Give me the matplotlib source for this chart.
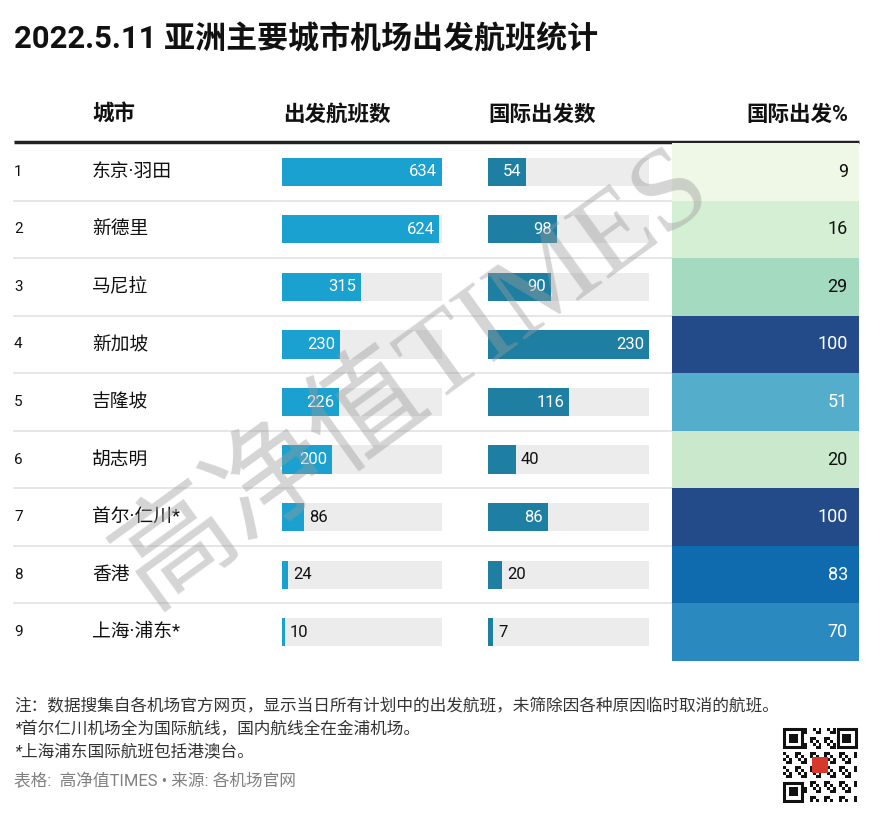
import numpy as np
import matplotlib
matplotlib.use("Agg")
import matplotlib.pyplot as plt
from matplotlib.patches import Rectangle

plt.rcParams['font.family'] = ['Roboto', 'Noto Sans CJK SC', 'DejaVu Sans']

# data
ranks = [1, 2, 3, 4, 5, 6, 7, 8, 9]
cities = ['东京·羽田', '新德里', '马尼拉', '新加坡', '吉隆坡', '胡志明', '首尔·仁川*', '香港', '上海·浦东*']
departures = [634, 624, 315, 230, 226, 200, 86, 24, 10]
intl_departures = [54, 98, 90, 230, 116, 40, 86, 20, 7]
intl_pct = [9, 16, 29, 100, 51, 20, 100, 83, 70]
pct_colors = ['#eff8e7', '#d5efd4', '#a3dac0', '#234b8a', '#54aecb',
              '#cae9cc', '#234b8a', '#0f6aae', '#2a89bf']
headers = ['城市', '出发航班数', '国际出发数', '国际出发%']
title = '2022.5.11 亚洲主要城市机场出发航班统计'
notes = ['注：数据搜集自各机场官方网页，显示当日所有计划中的出发航班，未筛除因各种原因临时取消的航班。',
         '*首尔仁川机场全为国际航线，国内航线全在金浦机场。',
         '*上海浦东国际航班包括港澳台。']
source = '表格:  高净值TIMES • 来源: 各机场官网'

W, H = 874, 830
fig = plt.figure(figsize=(W / 100, H / 100), dpi=100)
ax = fig.add_axes([0, 0, 1, 1])
ax.set_xlim(0, W)
ax.set_ylim(H, 0)
ax.axis('off')

top, bottom = 143, 661
n = len(cities)
row_h = (bottom - top) / n
yc = [top + row_h * (i + 0.5) for i in range(n)]

# title and headers
ax.text(14, 40, title, fontsize=22.3, fontweight='bold', va='center', ha='left', color='#111111')
ax.text(92, 115, headers[0], fontsize=15.5, fontweight='bold', va='center', color='#111111')
ax.text(283, 115, headers[1], fontsize=15.5, fontweight='bold', va='center', color='#111111')
ax.text(488, 115, headers[2], fontsize=15.5, fontweight='bold', va='center', color='#111111')
ax.text(848, 115, headers[3], fontsize=15.5, fontweight='bold', va='center', ha='right', color='#111111')
ax.plot([14, 859], [142, 142], color='#222222', lw=2.5, solid_capstyle='butt')

for i in range(n):
    ax.text(14, yc[i], str(ranks[i]), fontsize=11, va='center', color='#111111')
    ax.text(92, yc[i], cities[i], fontsize=13.5, va='center', color='#111111')
    if i < n - 1:
        ax.plot([14, 672], [top + row_h * (i + 1)] * 2, color='#e2e2e2', lw=1.2)


def bar_column(x0, x1, values, color):
    bax = fig.add_axes([x0 / W, 1 - bottom / H, (x1 - x0) / W, (bottom - top) / H])
    vmax = max(values)
    bax.set_xlim(0, vmax)
    bax.set_ylim(n, 0)
    bax.axis('off')
    ys = np.arange(n) + 0.5
    bax.barh(ys, [vmax] * n, height=0.49, color='#ececec')
    bax.barh(ys, values, height=0.49, color=color)
    pad = vmax * 5 / (x1 - x0)
    for y, v in zip(ys, values):
        if v / vmax * (x1 - x0) >= 30:
            bax.text(v - pad, y, str(v), ha='right', va='center', fontsize=12, color='white')
        else:
            bax.text(v + pad, y, str(v), ha='left', va='center', fontsize=12, color='#111111')


bar_column(282, 442, departures, '#1aa1cf')
bar_column(488, 649, intl_departures, '#1f7fa2')

# percent heat column
hax = fig.add_axes([672 / W, 1 - bottom / H, (859 - 672) / W, (bottom - top) / H])
hax.set_xlim(0, 1)
hax.set_ylim(n, 0)
hax.axis('off')
ys = np.arange(n) + 0.5
hax.barh(ys, [1] * n, height=1.0, color=pct_colors)
for y, v, c in zip(ys, intl_pct, pct_colors):
    dark = c in ('#234b8a', '#54aecb', '#0f6aae', '#2a89bf')
    hax.text(0.94, y, str(v), ha='right', va='center', fontsize=13,
             color='white' if dark else '#111111')

# watermark, drawn on top of everything
wax = fig.add_axes([0, 0, 1, 1])
wax.set_xlim(0, W)
wax.set_ylim(H, 0)
wax.axis('off')
wax.text(415, 378, '高净值TIMES', fontsize=84, rotation=36, color='#9a9a9a', alpha=0.42,
         ha='center', va='center', family=['Liberation Serif', 'Noto Sans CJK SC'],
         rotation_mode='anchor')

# notes
for k, line in enumerate(notes):
    ax.text(14, 706 + k * 23, line, fontsize=12, style='italic', va='center', color='#333333')
ax.text(14, 781, source, fontsize=12, va='center', color='#808080')

# QR-like badge
qx, qy, qs = 783, 728, 74
m = 25
cell = qs / m
for i in range(m):
    for j in range(m):
        if ((i * 7 + j * 13 + i * j) % 5) < 2:
            ax.add_patch(Rectangle((qx + j * cell, qy + i * cell), cell, cell, color='#111111', lw=0))
for fx, fy in [(0, 0), (m - 7, 0), (0, m - 7)]:
    ax.add_patch(Rectangle((qx + fx * cell, qy + fy * cell), 7 * cell, 7 * cell, color='white', lw=0))
    ax.add_patch(Rectangle((qx + (fx + 0.5) * cell, qy + (fy + 0.5) * cell), 6 * cell, 6 * cell,
                           fill=False, ec='#111111', lw=2.2))
    ax.add_patch(Rectangle((qx + (fx + 2) * cell, qy + (fy + 2) * cell), 3 * cell, 3 * cell,
                           color='#111111', lw=0))
ax.add_patch(Rectangle((qx + qs / 2 - 8, qy + qs / 2 - 8), 16, 16, color='#d6382b', lw=0))

fig.savefig('out.png', dpi=100)
